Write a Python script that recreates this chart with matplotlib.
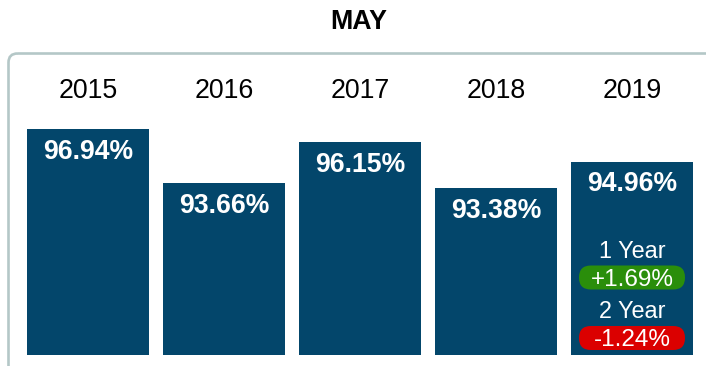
import matplotlib
matplotlib.use("Agg")
import matplotlib.pyplot as plt
from matplotlib.patches import FancyBboxPatch
import matplotlib.transforms as mtransforms

plt.rcParams['font.family'] = ['Liberation Sans', 'DejaVu Sans']

# Data
title = "MAY"
years = ["2015", "2016", "2017", "2018", "2019"]
rates = [96.94, 93.66, 96.15, 93.38, 94.96]
change_labels = ["1 Year", "2 Year"]
changes = [1.69, -1.24]

BAR = "#03466B"
GREEN = "#2A8E0B"
RED = "#DB0000"
FRAME = "#B4C7C7"

W, H = 706, 366
fig = plt.figure(figsize=(W / 100, H / 100), dpi=100)
fig.patch.set_facecolor("white")

# pixel coordinates measured from the top-left corner
px = mtransforms.Affine2D().scale(1 / W, -1 / H).translate(0, 1) + fig.transFigure

# rounded panel frame running off the right and bottom edges
frame = FancyBboxPatch((8.5, 53.5), 760, 400,
                       boxstyle="round,pad=0,rounding_size=9",
                       transform=px, fill=False, edgecolor=FRAME,
                       linewidth=1.9, zorder=0)
fig.patches.append(frame)

fig.text(359 / W, 1 - 22 / H, title, ha="center", va="center",
         fontsize=19.3, fontweight="bold", color="black")

ax_left, ax_right, ax_top, ax_bottom = 20, 700, 53, 355
ax = fig.add_axes([ax_left / W, 1 - ax_bottom / H,
                   (ax_right - ax_left) / W, (ax_bottom - ax_top) / H])
ax.set_xlim(-0.5, len(years) - 0.5)
ax.set_ylim(83.30, 101.53)
ax.axis("off")

x = list(range(len(years)))
ax.bar(x, rates, width=122 / 136, color=BAR, bottom=0, zorder=2)

xa = ax.get_xaxis_transform()
for i, (yr, v) in enumerate(zip(years, rates)):
    ax.text(i, (ax_bottom - 91.5) / (ax_bottom - ax_top), yr, transform=xa,
            ha="center", va="center", fontsize=19.3, color="black")
    ax.annotate(f"{v:.2f}%", xy=(i, v), xytext=(0, -16.3),
                textcoords="offset points", ha="center", va="center",
                fontsize=19.2, fontweight="bold", color="white", zorder=3)

# year-over-year change badges on the latest bar
last = len(years) - 1
axes_h = ax_bottom - ax_top
label_y = [250, 310]
pill_y = [277.5, 338]
pill_w = 106 / 136
pill_h = 24 / axes_h
aspect = (1 / axes_h) / (1 / 136)
for lab, ch, ly, py in zip(change_labels, changes, label_y, pill_y):
    ax.text(last, (ax_bottom - ly - 2) / axes_h, lab, transform=xa,
            ha="center", va="center", fontsize=16.8, color="white", zorder=3)
    yc = (ax_bottom - py) / axes_h
    pill = FancyBboxPatch((last - pill_w / 2, yc - pill_h / 2), pill_w, pill_h,
                          boxstyle="round,pad=0,rounding_size=0.087",
                          mutation_aspect=aspect, transform=xa,
                          facecolor=GREEN if ch >= 0 else RED,
                          edgecolor="none", zorder=3)
    ax.add_patch(pill)
    ax.text(last, yc - 2 / axes_h, f"{ch:+.2f}%", transform=xa,
            ha="center", va="center", fontsize=17.5, color="white", zorder=4)

fig.savefig("out.png", dpi=100, facecolor="white")
